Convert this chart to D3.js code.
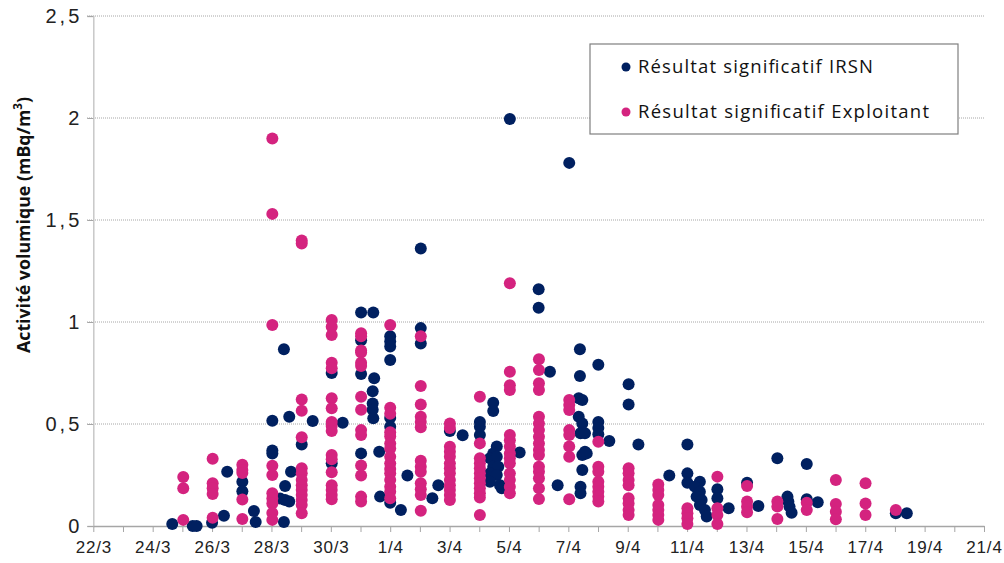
<!DOCTYPE html>
<html><head><meta charset="utf-8">
<script src="https://cdn.jsdelivr.net/npm/d3@7"></script>
<style>
body{margin:0;background:#fff;}
svg{display:block;font-family:"Open Sans","DejaVu Sans",sans-serif;}
</style></head><body>
<svg id="c" width="1004" height="563"></svg>
<script>
// Day offset from 22 March, value in mBq/m3
const xTickLabels = ["22/3","24/3","26/3","28/3","30/3","1/4","3/4","5/4","7/4","9/4","11/4","13/4","15/4","17/4","19/4","21/4"];
const yTicks = [0, 0.5, 1, 1.5, 2, 2.5];
const seriesNames = ["Résultat significatif IRSN", "Résultat significatif Exploitant"];
const irsn = [
[2.66,0.01],[3.35,0.0],[3.48,0.0],[4.0,0.016],[4.40,0.05],[4.51,0.266],
[5.02,0.217],[5.02,0.17],[5.41,0.073],[5.47,0.02],
[6.03,0.516],[6.03,0.37],[6.03,0.355],
[6.42,0.866],[6.6,0.536],[6.66,0.266],[6.46,0.196],[6.29,0.135],[6.46,0.127],[6.6,0.12],[6.42,0.02],
[7.02,0.40],[7.39,0.515],[8.03,0.75],[8.03,0.307],[8.4,0.506],
[9.02,1.046],[9.43,1.046],[9.02,0.91],[9.02,0.745],[9.02,0.356],
[9.46,0.724],[9.41,0.66],[9.41,0.60],[9.41,0.57],[9.43,0.528],[9.63,0.364],[9.66,0.144],
[10.0,0.93],[10.0,0.905],[10.0,0.88],[10.0,0.814],[10.0,0.53],[10.0,0.487],[10.0,0.114],
[10.36,0.078],[10.58,0.247],
[11.03,1.36],[11.03,0.97],[11.03,0.895],[11.42,0.136],[11.62,0.2],
[12.01,0.466],[12.44,0.445],
[13.02,0.51],[13.02,0.487],[13.02,0.446],[13.47,0.604],[13.47,0.564],
[13.59,0.39],[13.47,0.356],[13.36,0.332],[13.59,0.34],[13.47,0.29],[13.64,0.29],[13.36,0.258],[13.59,0.25],[13.36,0.217],[13.7,0.2],[13.76,0.185],
[14.03,1.995],[14.36,0.36],
[15.0,1.16],[15.0,1.07],[15.38,0.756],[15.64,0.2],
[16.03,1.78],
[16.39,0.866],[16.39,0.735],[16.35,0.626],[16.47,0.618],[16.35,0.536],[16.47,0.503],[16.41,0.455],[16.56,0.455],[16.56,0.364],[16.47,0.348],[16.62,0.356],[16.47,0.275],[16.41,0.193],[16.41,0.16],
[17.01,0.79],[17.01,0.51],[17.01,0.48],[17.01,0.45],[17.38,0.417],
[18.03,0.695],[18.03,0.596],[18.36,0.40],
[19.4,0.247],
[20.01,0.40],[20.01,0.258],[20.01,0.212],
[20.43,0.217],[20.26,0.193],[20.43,0.168],[20.32,0.144],[20.49,0.127],[20.43,0.103],[20.6,0.078],[20.66,0.046],
[21.02,0.18],[21.02,0.136],[21.4,0.087],
[22.02,0.212],[22.4,0.098],
[23.04,0.332],[23.38,0.144],[23.41,0.12],[23.45,0.095],[23.52,0.065],
[24.03,0.304],[24.03,0.131],[24.4,0.116],
[27.03,0.062],[27.4,0.062]
];
const exploitant = [
[3.03,0.24],[3.03,0.185],[3.03,0.03],
[4.02,0.33],[4.02,0.21],[4.02,0.185],[4.02,0.157],[4.02,0.04],
[5.02,0.30],[5.02,0.275],[5.02,0.26],[5.02,0.13],[5.02,0.034],
[6.03,1.90],[6.03,1.53],[6.03,0.985],[6.03,0.295],[6.03,0.25],[6.03,0.16],[6.03,0.135],[6.03,0.11],[6.03,0.064],[6.03,0.03],
[7.02,1.40],[7.02,1.385],[7.02,0.62],[7.02,0.565],[7.02,0.435],[7.02,0.283],[7.02,0.258],[7.02,0.225],[7.02,0.2],[7.02,0.176],[7.02,0.152],[7.02,0.127],[7.02,0.103],[7.02,0.062],
[8.03,1.01],[8.03,0.977],[8.03,0.936],[8.03,0.80],[8.03,0.773],[8.03,0.626],[8.03,0.577],[8.03,0.51],[8.03,0.49],[8.03,0.466],[8.03,0.348],[8.03,0.327],[8.03,0.263],[8.03,0.2],[8.03,0.176],[8.03,0.152],[8.03,0.131],
[9.02,0.945],[9.02,0.93],[9.02,0.86],[9.02,0.85],[9.02,0.80],[9.02,0.784],[9.02,0.634],[9.02,0.57],[9.02,0.47],[9.02,0.446],[9.02,0.296],[9.02,0.247],[9.02,0.144],[9.02,0.12],
[10.0,0.985],[10.0,0.58],[10.0,0.55],[10.0,0.46],[10.0,0.44],[10.0,0.405],[10.0,0.38],[10.0,0.34],[10.0,0.307],[10.0,0.28],[10.0,0.258],[10.0,0.225],[10.0,0.193],[10.0,0.168],[10.0,0.136],
[11.03,0.93],[11.03,0.686],[11.03,0.596],[11.03,0.536],[11.03,0.51],[11.03,0.484],[11.03,0.32],[11.03,0.29],[11.03,0.266],[11.03,0.21],[11.03,0.18],[11.03,0.152],[11.03,0.075],
[12.01,0.503],[12.01,0.48],[12.01,0.389],[12.01,0.364],[12.01,0.34],[12.01,0.307],[12.01,0.283],[12.01,0.258],[12.01,0.225],[12.01,0.2],[12.01,0.176],[12.01,0.152],[12.01,0.127],
[13.02,0.634],[13.02,0.405],[13.02,0.332],[13.02,0.307],[13.02,0.283],[13.02,0.258],[13.02,0.234],[13.02,0.21],[13.02,0.185],[13.02,0.16],[13.02,0.14],[13.02,0.054],
[14.03,1.19],[14.03,0.756],[14.03,0.69],[14.03,0.667],[14.03,0.446],[14.03,0.42],[14.03,0.39],[14.03,0.356],[14.03,0.332],[14.03,0.307],[14.03,0.258],[14.03,0.225],[14.03,0.193],[14.03,0.16],
[15.01,0.817],[15.01,0.765],[15.01,0.70],[15.01,0.667],[15.01,0.536],[15.01,0.503],[15.01,0.47],[15.01,0.438],[15.01,0.405],[15.01,0.373],[15.01,0.348],[15.01,0.29],[15.01,0.266],[15.01,0.234],[15.01,0.185],[15.01,0.132],
[16.03,0.618],[16.03,0.593],[16.03,0.569],[16.03,0.47],[16.03,0.446],[16.03,0.39],[16.03,0.34],[16.03,0.131],
[17.01,0.413],[17.01,0.29],[17.01,0.266],[17.01,0.217],[17.01,0.193],[17.01,0.168],[17.01,0.144],[17.01,0.12],
[18.03,0.283],[18.03,0.258],[18.03,0.225],[18.03,0.2],[18.03,0.136],[18.03,0.11],[18.03,0.078],[18.03,0.054],
[19.03,0.204],[19.03,0.176],[19.03,0.152],[19.03,0.103],[19.03,0.078],[19.03,0.054],[19.03,0.03],
[20.01,0.087],[20.01,0.062],[20.01,0.038],[20.01,0.01],
[21.02,0.242],[21.02,0.087],[21.02,0.054],[21.02,0.01],
[22.02,0.196],[22.02,0.12],[22.02,0.095],[22.02,0.067],
[23.04,0.12],[23.04,0.095],[23.04,0.034],
[24.03,0.114],[24.03,0.078],
[25.01,0.225],[25.01,0.108],[25.01,0.07],[25.01,0.033],
[26.01,0.21],[26.01,0.11],[26.01,0.054],
[27.03,0.078]
];
const colors = ["#002060", "#d4237f"];

const svg = d3.select("#c");
const x = d3.scaleLinear().domain([0, 30]).range([93.3, 984]);
const y = d3.scaleLinear().domain([0, 2.5]).range([526, 16]);
const fmt = v => String(v).replace(".", ",");

// gridlines
svg.append("g").selectAll("line").data(yTicks.filter(d => d > 0)).join("line")
  .attr("x1", 87).attr("x2", 984).attr("y1", d => y(d)).attr("y2", d => y(d))
  .attr("stroke", "#a6a6a6").attr("stroke-width", 1).attr("stroke-dasharray", "1,1");

// y axis
const yAxis = svg.append("g").attr("transform", "translate(93.3,0)")
  .call(d3.axisLeft(y).tickValues(yTicks).tickFormat(fmt).tickSize(6).tickPadding(8));
yAxis.select(".domain").attr("stroke", "#c8c8c8").attr("stroke-width", 1.5);
yAxis.selectAll(".tick line").attr("stroke", "#a6a6a6");
yAxis.selectAll("text").attr("font-size", 20).attr("fill", "#222")
  .attr("letter-spacing", 3).attr("dx", 3);

// x axis
const xAxis = svg.append("g").attr("transform", "translate(0,526)")
  .call(d3.axisBottom(x).tickValues(d3.range(0, 31)).tickSize(6).tickSizeOuter(0)
    .tickFormat(d => d % 2 === 0 ? xTickLabels[d / 2] : ""));
xAxis.select(".domain").attr("stroke", "#a6a6a6").attr("stroke-width", 1.5);
xAxis.selectAll(".tick line").attr("stroke", "#a6a6a6");
xAxis.selectAll("text").attr("font-size", 17).attr("fill", "#222").attr("dy", "1.05em")
  .attr("letter-spacing", 0.8);

// y label
svg.append("text").attr("transform", "translate(30,225) rotate(-90)")
  .attr("text-anchor", "middle").attr("font-size", 18.5).attr("font-weight", "bold")
  .attr("fill", "#111").attr("textLength", 256).attr("lengthAdjust", "spacingAndGlyphs")
  .html('Activité volumique (mBq/m<tspan baseline-shift="super" font-size="12">3</tspan>)');

// points
[irsn, exploitant].forEach((data, i) => {
  svg.append("g").selectAll("circle").data(data).join("circle")
    .attr("cx", d => x(d[0])).attr("cy", d => y(d[1])).attr("r", 6)
    .attr("fill", colors[i]);
});

// legend
const legendWidths = [235, 291];
const lg = svg.append("g");
lg.append("rect").attr("x", 590).attr("y", 44).attr("width", 368).attr("height", 90)
  .attr("fill", "#fff").attr("stroke", "#7f7f7f").attr("stroke-width", 1.2);
seriesNames.forEach((n, i) => {
  const cy = 67 + i * 45;
  lg.append("circle").attr("cx", 626).attr("cy", cy).attr("r", 4.5).attr("fill", colors[i]);
  lg.append("text").attr("x", 638).attr("y", cy).attr("dy", "0.35em")
    .attr("font-size", 18.5).attr("fill", "#111")
    .attr("textLength", legendWidths[i]).attr("lengthAdjust", "spacing").text(n);
});
</script>
</body></html>
